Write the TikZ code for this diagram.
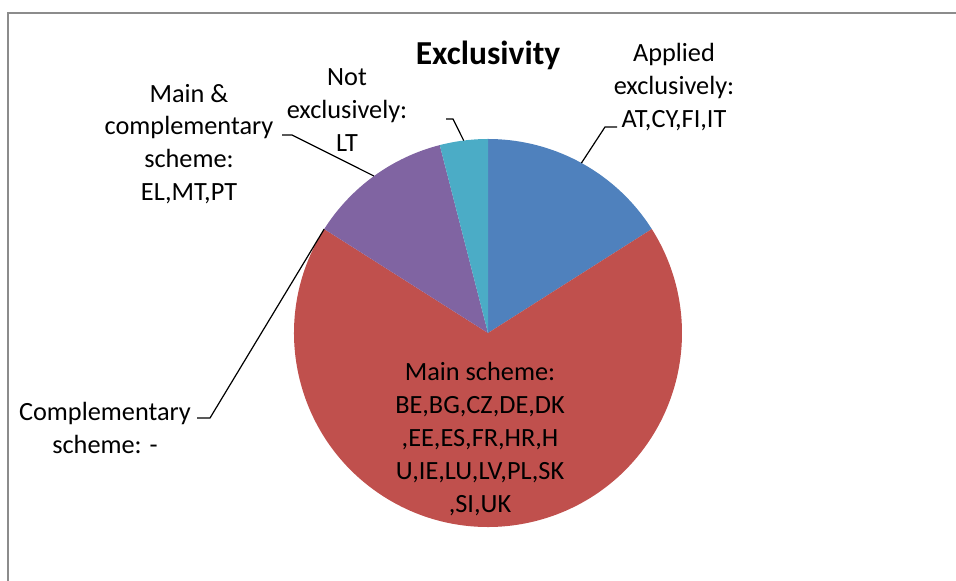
\documentclass[tikz,border=0pt]{standalone}
\usepackage{fontspec}
\setmainfont{Carlito}
\definecolor{pieblue}{HTML}{4F81BD}
\definecolor{piered}{HTML}{C0504D}
\definecolor{piepurple}{HTML}{8064A2}
\definecolor{pieaqua}{HTML}{4BACC6}
\definecolor{framegray}{HTML}{8C8C8C}
\tikzset{
  lbl/.style={align=center, inner sep=0pt, font=\fontsize{26.3}{32.8}\selectfont},
  leader/.style={line width=1.2pt, black},
}
\begin{document}
\begin{tikzpicture}[x=1pt,y=1pt]
  \useasboundingbox (0,0) rectangle (956,581);
  \draw[framegray, line width=1.5pt] (8,-20) -- (8,568) -- (990,568);

  \coordinate (c) at (488,248);
  \fill[pieblue] (c) -- ++(32.4:194pt) arc[start angle=32.4, end angle=90, radius=194pt] -- cycle;
  \fill[piered] (c) -- ++(147.6:194pt) arc[start angle=147.6, end angle=392.4, radius=194pt] -- cycle;
  \fill[piepurple] (c) -- ++(104.4:194pt) arc[start angle=104.4, end angle=147.6, radius=194pt] -- cycle;
  \fill[pieaqua] (c) -- ++(90:194pt) arc[start angle=90, end angle=104.4, radius=194pt] -- cycle;

  \node[font=\fontsize{33.5}{40}\selectfont\bfseries, anchor=base] (title) at (488,516) {Exclusivity};
  \node[lbl] (applied) at (674,494) {Applied\\exclusively:\\AT,CY,FI,IT};
  \node[lbl] (notexcl) at (347,471) {Not\\exclusively:\\LT};
  \node[lbl] (maincompl) at (189,437) {Main \&\\complementary\\scheme:\\EL,MT,PT};
  \node[lbl] (compl) at (105,153) {Complementary\\scheme: -};
  \node[lbl] (mainscheme) at (480,142) {Main scheme:\\BE,BG,CZ,DE,DK\\,EE,ES,FR,HR,H\\U,IE,LU,LV,PL,SK\\,SI,UK};

  \path (c) ++(61.2:194pt) coordinate (eA);
  \path (c) ++(97.2:194pt) coordinate (eN);
  \path (c) ++(126:194pt) coordinate (eM);
  \path (c) ++(147.6:194pt) coordinate (eC);
  \coordinate (kA) at (605,454);
  \coordinate (kN) at (453,462);
  \coordinate (kM) at (292,446);
  \coordinate (kC) at (210,163);
  \draw[leader] (eA) -- (kA) -- (617,454);
  \draw[leader] (eN) -- (kN) -- (446,462);
  \draw[leader] (eM) -- (kM) -- (282,446);
  \draw[leader] (eC) -- (kC) -- (197,163);
\end{tikzpicture}
\end{document}
